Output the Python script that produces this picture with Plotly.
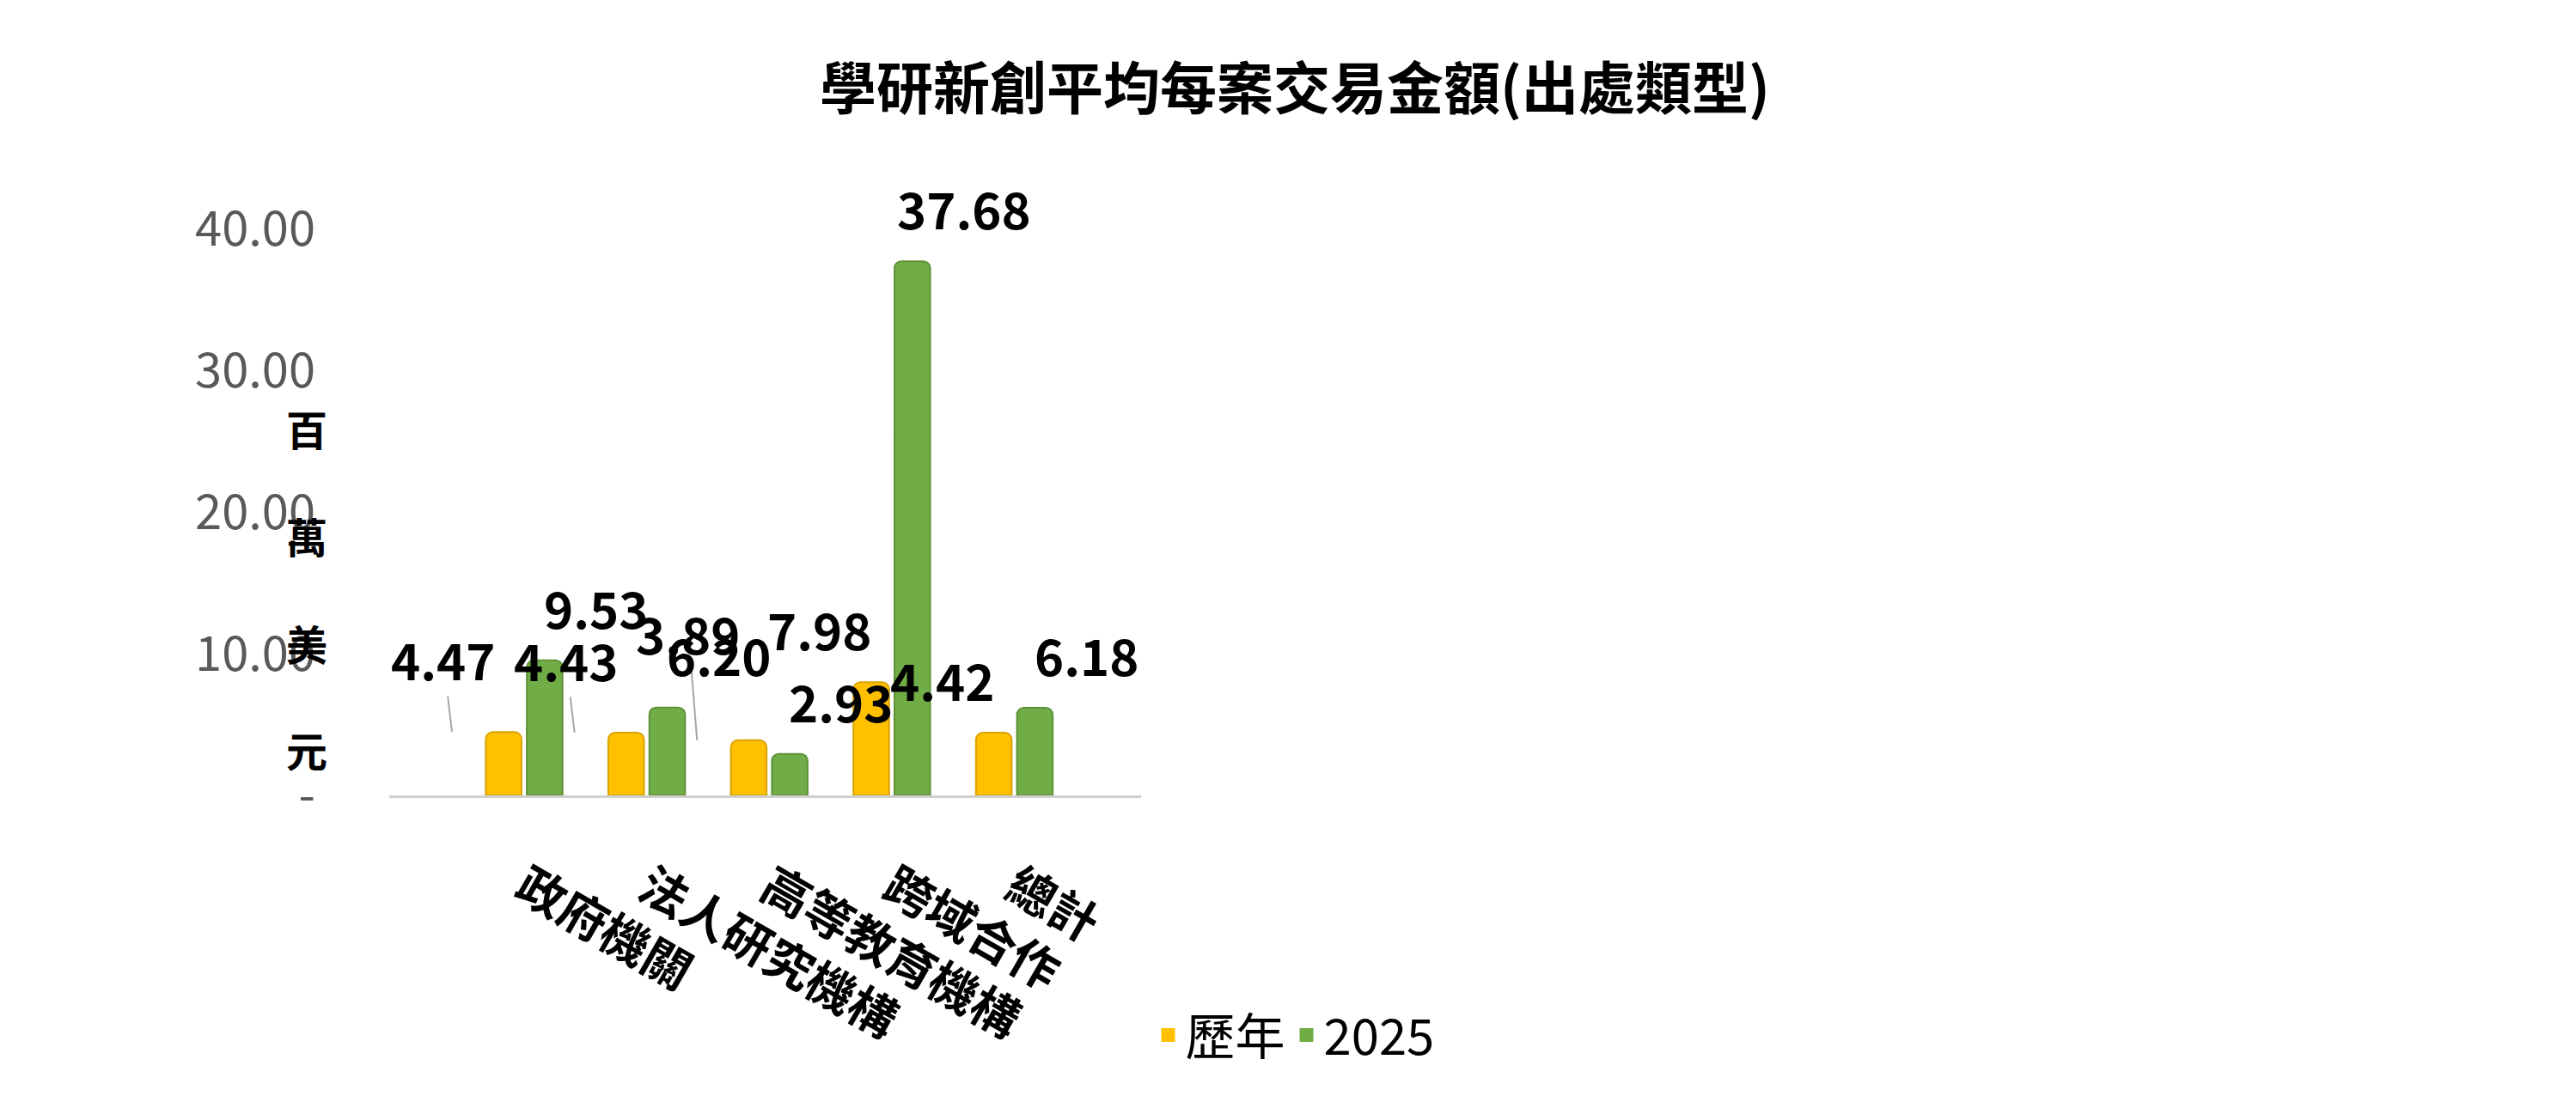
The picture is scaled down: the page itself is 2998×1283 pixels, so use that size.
import plotly.graph_objects as go

categories = ["政府機關", "法人研究機構", "高等教育機構", "跨域合作", "總計"]
hist_vals = [4.47, 4.43, 3.89, 7.98, 4.42]
vals_2025 = [9.53, 6.20, 2.93, 37.68, 6.18]
hist_label_lift = [85, 85, 125, 0, 0]  # leader-line labels, px above bar

FONT = "Noto Sans CJK TC"
YELLOW = "#FFC000"
GREEN = "#70AD47"

fig = go.Figure()
fig.add_bar(x=categories, y=hist_vals, name="歷年", marker_color=YELLOW,
            marker_line=dict(color="#d9a300", width=2), showlegend=False)
fig.add_bar(x=categories, y=vals_2025, name="2025", marker_color=GREEN,
            marker_line=dict(color="#5e9238", width=2), showlegend=False)
# legend-only entries with big square swatches
for name, col in [("歷年", YELLOW), ("2025", GREEN)]:
    fig.add_scatter(x=[None], y=[None], mode="markers", name=name,
                    marker=dict(symbol="square", size=44, color=col))

for c, v, lift in zip(categories, hist_vals, hist_label_lift):
    if lift:
        fig.add_annotation(x=c, y=v, xshift=-84, text=f"<b>{v:.2f}</b>", showarrow=True,
                           arrowhead=0, arrowcolor="#a6a6a6", arrowwidth=2,
                           ax=-10, ay=-lift, font=dict(size=58, color="black"))
    else:
        fig.add_annotation(x=c, y=v, xshift=-84, text=f"<b>{v:.2f}</b>", showarrow=False,
                           yanchor="bottom", yshift=18, font=dict(size=58, color="black"))
for c, v in zip(categories, vals_2025):
    fig.add_annotation(x=c, y=v, xshift=84, text=f"<b>{v:.2f}</b>", showarrow=False,
                       yanchor="bottom", yshift=18, font=dict(size=58, color="black"))

fig.add_annotation(xref="paper", yref="paper", x=-0.14, y=0.7,
                   text="<b>百</b><br><br><b>萬</b><br><br><b>美</b><br><br><b>元</b>",
                   showarrow=False, font=dict(size=48, color="black"), align="center")

fig.update_layout(
    width=2998, height=1283,
    paper_bgcolor="white", plot_bgcolor="white",
    font=dict(family=FONT, color="black"),
    title=dict(text="<b>學研新創平均每案交易金額(出處類型)</b>", x=0.5, y=0.925,
               xanchor="center", yanchor="middle", font=dict(size=66)),
    barmode="group", bargap=0.33, bargroupgap=0.13, barcornerradius=8,
    margin=dict(l=445, r=63, t=253, b=365),
    xaxis=dict(showline=True, linecolor="#d0d0d0", linewidth=3, ticks="",
               tickfont=dict(size=56), ticklabelstandoff=50,
               ticktext=[f"<b>{c}</b>" for c in categories], tickvals=categories),
    yaxis=dict(range=[0, 40.3], tickvals=[0, 10, 20, 30, 40],
               ticktext=["-", "10.00", "20.00", "30.00", "40.00"],
               showgrid=False, zeroline=False, tickfont=dict(size=56, color="#595959"),
               ticklabelstandoff=85),
    legend=dict(orientation="h", xref="container", x=0.5, xanchor="center",
                y=-0.42, yanchor="middle", font=dict(size=58), itemwidth=30),
)

fig.write_html("out.html")
